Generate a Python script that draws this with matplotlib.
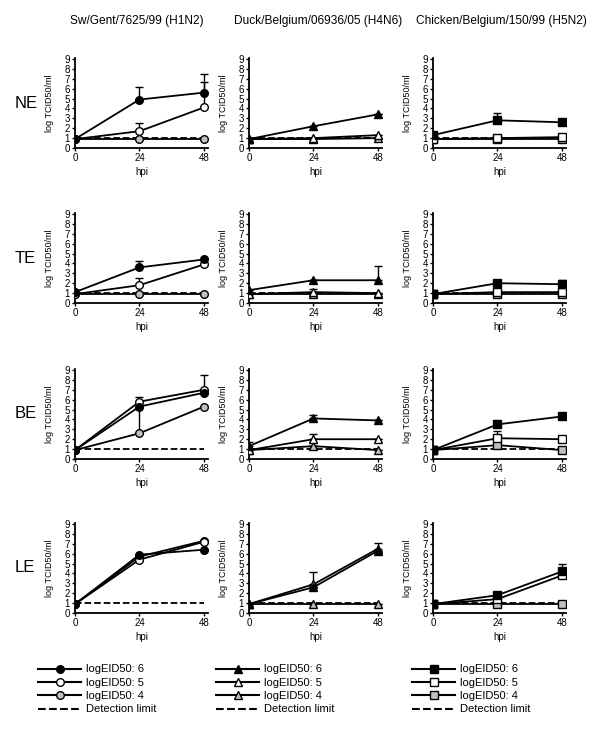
import numpy as np
import matplotlib
matplotlib.use("Agg")
import matplotlib.pyplot as plt
from matplotlib.lines import Line2D

plt.rcParams['font.family'] = ['Liberation Sans', 'DejaVu Sans']

# #############################################################################
# Data
hpi = [0, 24, 48]
viruses = ["Sw/Gent/7625/99 (H1N2)", "Duck/Belgium/06936/05 (H4N6)",
           "Chicken/Belgium/150/99 (H5N2)"]
markers = ["o", "^", "s"]
tissues = ["NE", "TE", "BE", "LE"]
doses = ["logEID50: 6", "logEID50: 5", "logEID50: 4"]
dose_colors = ["black", "white", "#c0c0c0"]
detection_limit = 1.0

# means[tissue][virus][dose]
means = {
    "NE": [[[0.9, 4.9, 5.6], [0.9, 1.7, 4.1], [0.9, 0.9, 0.9]],
           [[0.9, 2.2, 3.4], [0.9, 1.0, 1.3], [0.9, 0.9, 1.0]],
           [[1.3, 2.8, 2.6], [0.9, 1.0, 1.1], [0.9, 0.9, 0.9]]],
    "TE": [[[1.1, 3.6, 4.4], [0.9, 1.8, 3.9], [0.9, 0.9, 0.9]],
           [[1.3, 2.3, 2.3], [0.9, 1.1, 1.0], [0.9, 0.9, 0.9]],
           [[0.9, 2.0, 1.9], [0.9, 1.1, 1.1], [0.9, 0.9, 0.9]]],
    "BE": [[[0.9, 5.3, 6.7], [0.9, 5.8, 7.0], [0.9, 2.6, 5.3]],
           [[1.3, 4.1, 3.9], [0.9, 2.0, 2.0], [0.9, 1.3, 0.9]],
           [[0.9, 3.5, 4.3], [0.9, 2.1, 2.0], [0.9, 1.4, 0.9]]],
    "LE": [[[0.9, 5.9, 6.4], [0.9, 5.4, 7.2], [0.9, 5.7, 7.3]],
           [[0.9, 2.6, 6.3], [0.9, 2.9, 6.5], [0.9, 0.9, 0.9]],
           [[0.9, 1.8, 4.2], [0.9, 1.4, 3.8], [0.9, 0.9, 0.9]]],
}

# upper error bars, same layout
errors = {
    "NE": [[[0, 1.3, 1.9], [0, 0.8, 2.6], [0, 0, 0]],
           [[0, 0, 0], [0, 0, 0], [0, 0, 0]],
           [[0, 0.7, 0], [0, 0, 0], [0, 0, 0]]],
    "TE": [[[0, 0.6, 0], [0, 0.7, 0], [0, 0, 0]],
           [[0, 0, 1.4], [0, 0.3, 0], [0, 0, 0]],
           [[0, 0, 0.4], [0, 0, 0], [0, 0, 0]]],
    "BE": [[[0, 0, 0], [0, 0.5, 1.5], [0, 0, 0]],
           [[0.4, 0.3, 0], [0, 0.5, 0], [0, 0, 0]],
           [[0, 0, 0], [0, 0.7, 0], [0, 0, 0]]],
    "LE": [[[0, 0, 0], [0, 0, 0], [0, 0, 0]],
           [[0, 0, 0], [0, 1.2, 0.6], [0, 0, 0]],
           [[0, 0, 0.8], [0, 0, 0], [0, 0, 0]]],
}

# #############################################################################
# Layout (pixels of a 600x731 canvas)
W, H = 600, 731
col_left = [75, 249, 433]
col_width = 133
row_top = [58, 213, 369, 523]
row_height = 90

fig = plt.figure(figsize=(6, 7.31), dpi=100)

for r, tissue in enumerate(tissues):
    for c in range(3):
        ax = fig.add_axes([col_left[c] / W, 1 - (row_top[r] + row_height) / H,
                           col_width / W, row_height / H])
        ax.plot([0, 48], [detection_limit, detection_limit], "k--", lw=1.3,
                zorder=1)
        # draw lowest dose first so the black series sits on top
        for d in [2, 1, 0]:
            y = means[tissue][c][d]
            e = errors[tissue][c][d]
            ax.errorbar(hpi, y, yerr=[np.zeros(3), e], color="black", lw=1.3,
                        marker=markers[c], markersize=5.5,
                        markerfacecolor=dose_colors[d],
                        markeredgecolor="black", markeredgewidth=1.0,
                        capsize=3, elinewidth=1.0, capthick=1.0, zorder=3)
        if tissue == "BE" and c == 0:
            # lower bar at 24 hpi
            ax.plot([24, 24], [2.7, 5.3], color="black", lw=1.0, zorder=2)

        ax.set_xlim(0, 49.5)
        ax.set_ylim(0, 9.1)
        ax.set_xticks([0, 24, 48])
        ax.set_yticks(range(10))
        ax.spines["top"].set_visible(False)
        ax.spines["right"].set_visible(False)
        ax.spines["left"].set_linewidth(1.3)
        ax.spines["bottom"].set_linewidth(1.3)
        ax.tick_params(labelsize=7, length=2.5, width=1, pad=1)
        ax.set_xlabel("hpi", fontsize=7, labelpad=3)
        ax.set_ylabel("log TCID50/ml", fontsize=6.5, labelpad=8)

    fig.text(15 / W, 1 - (row_top[r] + 45) / H, tissue, fontsize=12,
             va="center", ha="left")

title_x = [137, 318, 501]
for c, name in enumerate(viruses):
    fig.text(title_x[c] / W, 1 - 21 / H, name, fontsize=8.6,
             ha="center", va="center")

# #############################################################################
# Legends
leg_left = [34, 212, 408]
for c in range(3):
    handles = [Line2D([], [], color="black", lw=1.5, marker=markers[c],
                      markersize=5.5, markerfacecolor=dose_colors[d],
                      markeredgecolor="black") for d in range(3)]
    handles.append(Line2D([], [], color="black", lw=1.5, ls="--"))
    labels = doses + ["Detection limit"]
    fig.legend(handles, labels, loc="upper left",
               bbox_to_anchor=(leg_left[c] / W, 1 - 660 / H), frameon=False,
               fontsize=8, handlelength=3.8, handletextpad=0.5,
               labelspacing=0.3, borderaxespad=0)

fig.savefig("out.png", dpi=100)
